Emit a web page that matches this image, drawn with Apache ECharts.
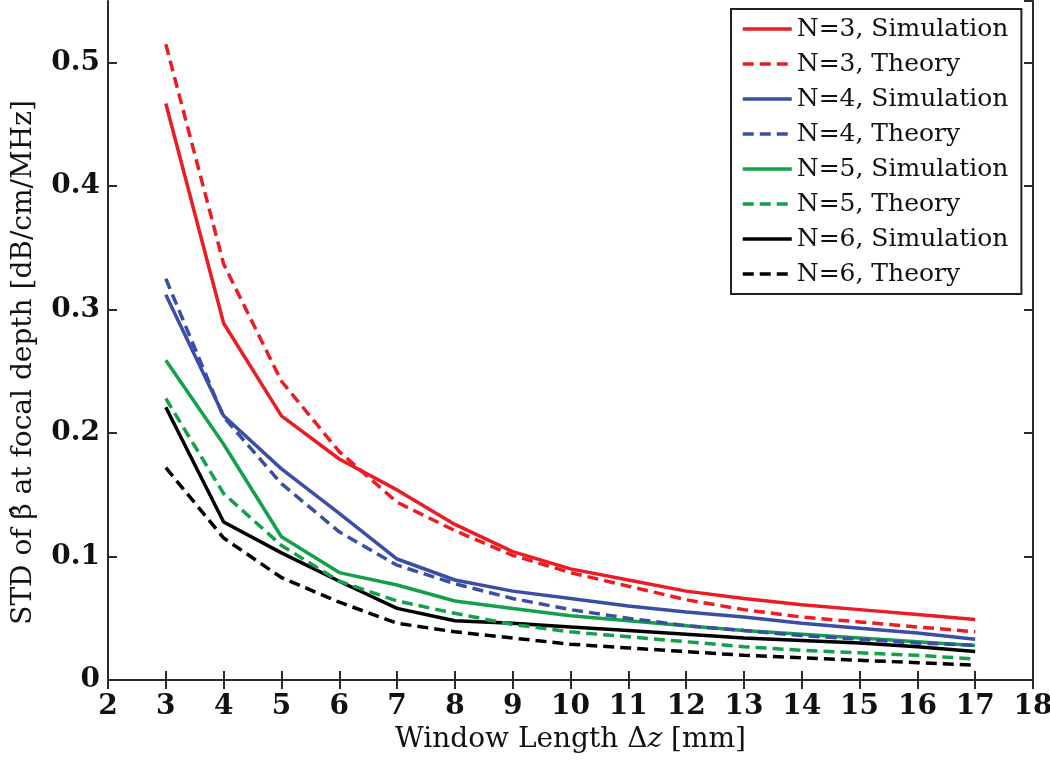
<!DOCTYPE html>
<html>
<head>
<meta charset="utf-8">
<script src="https://cdn.jsdelivr.net/npm/echarts@6/dist/echarts.min.js"></script>
<style>
  html, body { margin: 0; padding: 0; background: #fff; }
  #chart { width: 1050px; height: 761px; }
</style>
</head>
<body>
<div id="chart"></div>
<script>
// window length (mm)
var windowLength = [3, 4, 5, 6, 7, 8, 9, 10, 11, 12, 13, 14, 15, 16, 17];

var n3Sim = [0.467, 0.289, 0.214, 0.179, 0.154, 0.126, 0.104, 0.090, 0.081, 0.072, 0.066, 0.061, 0.057, 0.053, 0.049];
var n3Theory = [0.515, 0.337, 0.242, 0.185, 0.144, 0.121, 0.101, 0.087, 0.076, 0.065, 0.057, 0.051, 0.047, 0.043, 0.039];
var n4Sim = [0.312, 0.214, 0.171, 0.135, 0.098, 0.081, 0.072, 0.066, 0.060, 0.055, 0.051, 0.046, 0.042, 0.038, 0.033];
var n4Theory = [0.325, 0.213, 0.159, 0.120, 0.093, 0.078, 0.066, 0.057, 0.050, 0.044, 0.040, 0.036, 0.033, 0.030, 0.028];
var n5Sim = [0.259, 0.191, 0.116, 0.087, 0.077, 0.064, 0.058, 0.052, 0.048, 0.044, 0.040, 0.037, 0.034, 0.031, 0.028];
var n5Theory = [0.228, 0.151, 0.109, 0.080, 0.064, 0.054, 0.045, 0.039, 0.035, 0.031, 0.027, 0.024, 0.022, 0.020, 0.017];
var n6Sim = [0.221, 0.128, 0.103, 0.080, 0.058, 0.048, 0.046, 0.043, 0.040, 0.037, 0.034, 0.032, 0.030, 0.027, 0.023];
var n6Theory = [0.172, 0.115, 0.083, 0.063, 0.046, 0.039, 0.034, 0.029, 0.026, 0.023, 0.020, 0.018, 0.016, 0.014, 0.012];

var seriesNames = ['N=3, Simulation', 'N=3, Theory', 'N=4, Simulation', 'N=4, Theory',
                   'N=5, Simulation', 'N=5, Theory', 'N=6, Simulation', 'N=6, Theory'];
var seriesValues = [n3Sim, n3Theory, n4Sim, n4Theory, n5Sim, n5Theory, n6Sim, n6Theory];
var seriesColors = ['#ec1c24', '#ec1c24', '#3a4ea6', '#3a4ea6', '#13a04b', '#13a04b', '#000000', '#000000'];

var FONT = '"DejaVu Serif", "Liberation Serif", serif';
var AXIS_COLOR = '#2a2a2a';

function pairs(xs, ys) {
    var out = [];
    for (var i = 0; i < xs.length; i++) {
        out.push([xs[i], ys[i]]);
    }
    return out;
}

var series = [];
for (var i = 0; i < seriesNames.length; i++) {
    series.push({
        name: seriesNames[i],
        type: 'line',
        data: pairs(windowLength, seriesValues[i]),
        symbol: 'none',
        showSymbol: false,
        color: seriesColors[i],
        lineStyle: {
            width: 3.5,
            color: seriesColors[i],
            type: (i % 2 == 1) ? [11, 6] : 'solid'
        },
        z: 10 - i
    });
}

/* frame axes (top / right) just carry the box and inward ticks */
var frameAxis = {
    axisLine: { show: true, lineStyle: { color: AXIS_COLOR, width: 2 } },
    axisTick: { show: true, inside: true, length: 9, lineStyle: { color: AXIS_COLOR, width: 2 } },
    axisLabel: { show: false },
    splitLine: { show: false }
};

var option = {
    animation: false,
    backgroundColor: '#fff',
    grid: { left: 108, right: 17, top: 1, bottom: 81, outerBoundsMode: 'none', containLabel: false },
    legend: {
        orient: 'vertical',
        left: 731,
        top: 9,
        data: seriesNames,
        backgroundColor: '#fff',
        borderColor: '#222',
        borderWidth: 2,
        borderRadius: 0,
        padding: [6, 13, 6, 10],
        itemWidth: 49,
        itemHeight: 14,
        itemGap: 7,
        itemStyle: { color: 'transparent', borderWidth: 0, opacity: 0 },
        lineStyle: { width: 3.5 },
        textStyle: { fontFamily: FONT, fontSize: 25, color: '#111', lineHeight: 28 }
    },
    xAxis: [
        {
            type: 'value',
            min: 2,
            max: 18,
            interval: 1,
            name: '{a|Window Length Δ}{i|z}{a| [mm]}',
            nameLocation: 'middle',
            nameGap: 44,
            nameTextStyle: {
                rich: {
                    a: { fontFamily: FONT, fontSize: 28, color: '#111' },
                    i: { fontFamily: FONT, fontSize: 28, fontStyle: 'italic', color: '#111' }
                }
            },
            axisLine: { show: true, onZero: false, lineStyle: { color: AXIS_COLOR, width: 2 } },
            axisTick: { show: true, inside: true, length: 9, lineStyle: { color: AXIS_COLOR, width: 2 } },
            axisLabel: { fontFamily: FONT, fontSize: 28, fontWeight: 'bold', color: '#111', margin: 13 },
            splitLine: { show: false }
        },
        Object.assign({ type: 'value', min: 2, max: 18, interval: 1, position: 'top' }, frameAxis)
    ],
    yAxis: [
        {
            type: 'value',
            min: 0,
            max: 0.55,
            interval: 0.1,
            name: 'STD of β̂ at focal depth [dB/cm/MHz]',
            nameLocation: 'middle',
            nameGap: 70,
            nameTextStyle: { fontFamily: FONT, fontSize: 28, color: '#111', padding: [0, 44, 0, 0] },
            axisLine: { show: true, onZero: false, lineStyle: { color: AXIS_COLOR, width: 2 } },
            axisTick: { show: true, inside: true, length: 9, lineStyle: { color: AXIS_COLOR, width: 2 } },
            axisLabel: { fontFamily: FONT, fontSize: 28, fontWeight: 'bold', color: '#111', margin: 8, showMaxLabel: false },
            splitLine: { show: false }
        },
        Object.assign({ type: 'value', min: 0, max: 0.55, interval: 0.1, position: 'right' }, frameAxis)
    ],
    series: series
};

var myChart = echarts.init(document.getElementById('chart'));
myChart.setOption(option);
</script>
</body>
</html>
